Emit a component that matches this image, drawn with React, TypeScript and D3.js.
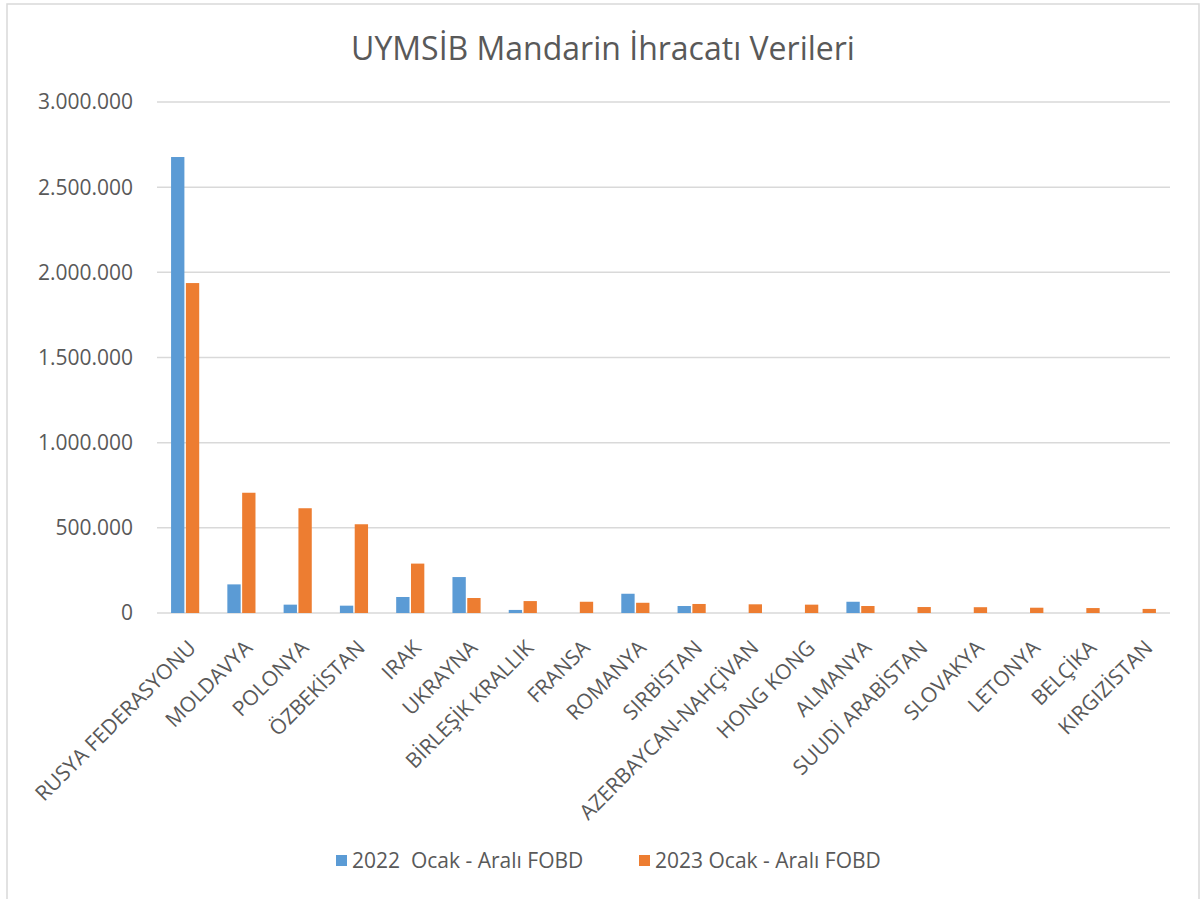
import React from "react";
import * as d3 from "d3";

const countries = [
  "RUSYA FEDERASYONU", "MOLDAVYA", "POLONYA", "ÖZBEKİSTAN", "IRAK", "UKRAYNA",
  "BİRLEŞİK KRALLIK", "FRANSA", "ROMANYA", "SIRBİSTAN", "AZERBAYCAN-NAHÇİVAN",
  "HONG KONG", "ALMANYA", "SUUDİ ARABİSTAN", "SLOVAKYA", "LETONYA", "BELÇİKA", "KIRGIZİSTAN",
];
const values2022 = [
  2677000, 168000, 49000, 43000, 94000, 211000, 18000, 0, 113000, 41000,
  0, 0, 66000, 0, 0, 0, 0, 0,
];
const values2023 = [
  1937000, 706000, 615000, 521000, 290000, 88000, 70000, 66000, 60000, 53000,
  51000, 49000, 41000, 35000, 34000, 31000, 29000, 24000,
];
const seriesNames = ["2022  Ocak - Aralı FOBD", "2023 Ocak - Aralı FOBD"];
const yTicks = [0, 500000, 1000000, 1500000, 2000000, 2500000, 3000000];

const W = 1200;
const H = 899;
const colors = ["#5B9BD5", "#ED7D31"];
const textColor = "#595959";
const font = "'Open Sans', sans-serif";

const App = () => {
  const left = 157;
  const right = 1170;
  const top = 102;
  const bottom = 613;

  const x = d3.scaleBand().domain(countries).range([left, right]).paddingInner(0.5).paddingOuter(0.25);
  const xs = d3.scaleBand().domain(["a", "b"]).range([0, x.bandwidth()]).paddingInner(0.1);
  const y = d3.scaleLinear().domain([0, 3000000]).range([bottom, top]);
  const fmt = d3.formatLocale({ decimal: ",", thousands: ".", grouping: [3], currency: ["", ""] }).format(",d");
  const all = [values2022, values2023];

  return (
    <svg width={W} height={H} style={{ position: "absolute", left: 0, top: 0, background: "#fff" }} fontFamily={font}>
      <rect x={7} y={4} width={1192} height={910} fill="#fff" stroke="#d9d9d9" strokeWidth={1.5} />
      <text x={603} y={60} textAnchor="middle" fontSize={32} fill={textColor}>
        UYMSİB Mandarin İhracatı Verileri
      </text>
      {yTicks.map((t) => (
        <g key={t}>
          <line x1={left} x2={right} y1={y(t)} y2={y(t)} stroke="#d9d9d9" strokeWidth={1.5} />
          <text x={133} y={y(t)} dy="0.35em" textAnchor="end" fontSize={21} fill={textColor}>
            {fmt(t)}
          </text>
        </g>
      ))}
      {all.map((vals, si) =>
        vals.map((v, i) =>
          v > 0 ? (
            <rect
              key={`${si}-${i}`}
              x={(x(countries[i]) ?? 0) + (xs(si === 0 ? "a" : "b") ?? 0)}
              y={y(v)}
              width={xs.bandwidth()}
              height={bottom - y(v)}
              fill={colors[si]}
            />
          ) : null
        )
      )}
      {countries.map((c) => {
        const cx = (x(c) ?? 0) + x.bandwidth() / 2;
        return (
          <text
            key={c}
            transform={`translate(${cx + 1},${638}) rotate(-45)`}
            dy="0.75em"
            textAnchor="end"
            fontSize={21}
            fill={textColor}
          >
            {c}
          </text>
        );
      })}
      {seriesNames.map((s, i) => {
        const lx = i === 0 ? 336 : 639;
        return (
          <g key={s}>
            <rect x={lx} y={855} width={11} height={11} fill={colors[i]} />
            <text x={lx + 16} y={861} dy="0.35em" fontSize={21} fill={textColor} style={{ whiteSpace: "pre" }}>
              {s}
            </text>
          </g>
        );
      })}
    </svg>
  );
};

export default App;
